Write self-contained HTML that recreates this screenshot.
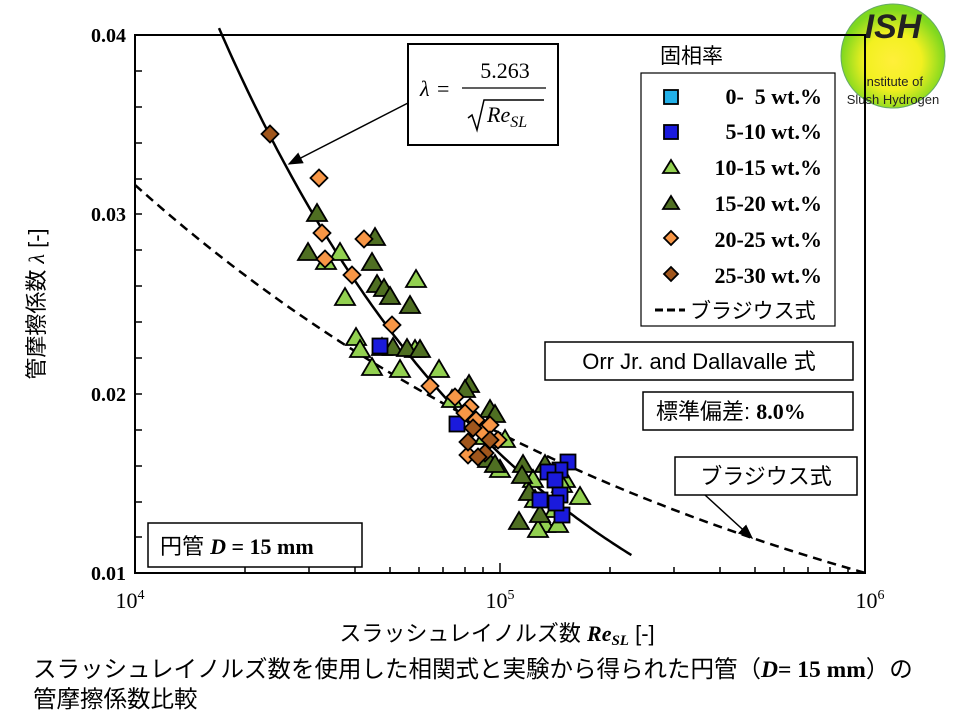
<!DOCTYPE html>
<html><head><meta charset="utf-8"><style>
body{margin:0;background:#fff;width:960px;height:720px;overflow:hidden;font-family:"Liberation Sans","Noto Sans CJK JP",sans-serif}
</style></head><body>
<svg width="960" height="720" viewBox="0 0 960 720" xmlns="http://www.w3.org/2000/svg">
<defs>
<radialGradient id="lg" cx="0.5" cy="0.55" r="0.5">
<stop offset="0" stop-color="#ffef3a"/><stop offset="0.55" stop-color="#f2f020"/><stop offset="1" stop-color="#7fd81f"/>
</radialGradient>
<marker id="ar" markerWidth="10" markerHeight="8" refX="9" refY="4" orient="auto"><path d="M0,0 L10,4 L0,8 Z" fill="#000"/></marker>
</defs>
<!-- logo -->
<circle cx="893" cy="56" r="52" fill="url(#lg)" stroke="#6a6" stroke-width="1"/>
<text x="893" y="38" font-size="34" font-weight="bold" font-style="italic" text-anchor="middle" fill="#222">ISH</text>
<text x="893" y="86" font-size="13" text-anchor="middle" fill="#222">Institute of</text>
<text x="893" y="104" font-size="13" text-anchor="middle" fill="#222">Slush Hydrogen</text>
<!-- axes -->
<rect x="135" y="35" width="730" height="538" fill="none" stroke="#000" stroke-width="2"/>
<g stroke="#000" stroke-width="1.5">
<path d="M135,71h7M135,107h7M135,143h7M135,179h7M135,214h7M135,250h7M135,286h7M135,322h7M135,358h7M135,394h7M135,430h7M135,466h7M135,502h7M135,537h7"/>
<path d="M245,573v-6M309,573v-6M355,573v-6M390,573v-6M419,573v-6M443,573v-6M465,573v-6M483,573v-6M500,573v-10M610,573v-6M674,573v-6M720,573v-6M755,573v-6M784,573v-6M808,573v-6M830,573v-6M848,573v-6"/>
</g>
<g font-family="Liberation Serif,serif" font-weight="bold" font-size="20" text-anchor="end">
<text x="126" y="42">0.04</text><text x="126" y="221">0.03</text><text x="126" y="401">0.02</text><text x="126" y="580">0.01</text>
</g>
<g font-family="Liberation Serif,serif" font-size="22" text-anchor="middle">
<text x="130" y="608">10<tspan font-size="14" dy="-9">4</tspan></text>
<text x="500" y="608">10<tspan font-size="14" dy="-9">5</tspan></text>
<text x="870" y="608">10<tspan font-size="14" dy="-9">6</tspan></text>
</g>
<text x="497" y="641" font-size="22" text-anchor="middle">スラッシュレイノルズ数 <tspan font-family="Liberation Serif,serif" font-weight="bold" font-style="italic">Re<tspan font-size="15" dy="4">SL</tspan></tspan><tspan dy="-4" font-family="Liberation Sans"> [-]</tspan></text>
<text transform="translate(44,304) rotate(-90)" font-size="22" text-anchor="middle">管摩擦係数 <tspan font-family="Liberation Serif,serif" font-style="italic">λ</tspan> [-]</text>
<!-- curves -->
<path id="c1" fill="none" stroke="#000" stroke-width="2.5" d=""/>
<path id="c2" fill="none" stroke="#000" stroke-width="2.5" stroke-dasharray="9,6" d=""/>
<g id="pts" stroke="#000" stroke-width="1.8"></g>
<!-- formula box -->
<line x1="408" y1="103" x2="289" y2="164" stroke="#000" stroke-width="1.5" marker-end="url(#ar)"/>
<rect x="408" y="44" width="150" height="101" fill="#fff" stroke="#000" stroke-width="2"/>
<g font-family="Liberation Serif,serif" font-size="22">
<text x="420" y="96" font-style="italic">λ</text><text x="437" y="96">=</text>
<text x="505" y="78" text-anchor="middle">5.263</text>
<line x1="462" y1="88" x2="546" y2="88" stroke="#000" stroke-width="1.2"/>
<path d="M468,118 l4,-3 l5,15 l7,-30 h60" fill="none" stroke="#000" stroke-width="1.5"/>
<text x="487" y="122" font-style="italic">Re<tspan font-size="16" dy="5">SL</tspan></text>
</g>
<!-- legend -->
<text x="660" y="63" font-size="21">固相率</text>
<rect x="641" y="73" width="194" height="253" fill="#fff" stroke="#000" stroke-width="1.2"/>
<g font-family="Liberation Serif,serif" font-weight="bold" font-size="22" text-anchor="end">
<text x="822" y="104">0-&#160;&#160;5 wt.%</text><text x="822" y="139">5-10 wt.%</text><text x="822" y="175">10-15 wt.%</text>
<text x="822" y="211">15-20 wt.%</text><text x="822" y="247">20-25 wt.%</text><text x="822" y="283">25-30 wt.%</text>
</g>
<g stroke="#000" stroke-width="1.8">
<rect x="664" y="90" width="14" height="14" fill="#22b0e8"/>
<rect x="664" y="125" width="14" height="14" fill="#1a1adc"/>
<path d="M671,160 l8,13 h-16z" fill="#92d050"/>
<path d="M671,196 l8,13 h-16z" fill="#4f6f22"/>
<path d="M671,231 l7,7 l-7,7 l-7,-7z" fill="#f79646"/>
<path d="M671,267 l7,7 l-7,7 l-7,-7z" fill="#a0561c"/>
</g>
<path d="M655,310 h30" stroke="#000" stroke-width="3" stroke-dasharray="8,4"/>
<text x="690" y="318" font-size="21">ブラジウス式</text>
<!-- other boxes -->
<rect x="545" y="342" width="308" height="38" fill="#fff" stroke="#000" stroke-width="1.5"/>
<text x="699" y="369" font-size="22" text-anchor="middle">Orr Jr. and Dallavalle 式</text>
<rect x="643" y="392" width="210" height="38" fill="#fff" stroke="#000" stroke-width="1.5"/>
<text x="656" y="419" font-size="22">標準偏差: <tspan font-family="Liberation Serif,serif" font-weight="bold">8.0%</tspan></text>
<line x1="705" y1="495" x2="752" y2="538" stroke="#000" stroke-width="1.5" marker-end="url(#ar)"/>
<rect x="675" y="457" width="182" height="38" fill="#fff" stroke="#000" stroke-width="1.5"/>
<text x="766" y="484" font-size="22" text-anchor="middle">ブラジウス式</text>
<rect x="148" y="523" width="214" height="44" fill="#fff" stroke="#000" stroke-width="1.5"/>
<text x="160" y="554" font-size="22">円管 <tspan font-family="Liberation Serif,serif" font-weight="bold"><tspan font-style="italic">D</tspan> = 15 mm</tspan></text>
<!-- caption -->
<text x="33" y="677" font-size="23.5">スラッシュレイノルズ数を使用した相関式と実験から得られた円管（<tspan font-family="Liberation Serif,serif" font-weight="bold"><tspan font-style="italic">D</tspan>= 15 mm</tspan>）の</text>
<text x="33" y="707" font-size="23.5">管摩擦係数比較</text>
</svg>
<script>
function X(re){return 135+(Math.log10(re)-4)*365}
function Y(l){return 35+(0.04-l)*17933}
var d1="",d2="";
for(var lg=4.23;lg<=5.36;lg+=0.01){var re=Math.pow(10,lg);d1+=(d1?"L":"M")+X(re).toFixed(1)+","+Y(5.263/Math.sqrt(re)).toFixed(1);}
for(var lg=4;lg<=6.001;lg+=0.02){var re=Math.pow(10,lg);d2+=(d2?"L":"M")+X(re).toFixed(1)+","+Y(0.3164*Math.pow(re,-0.25)).toFixed(1);}
document.getElementById("c1").setAttribute("d",d1);
document.getElementById("c2").setAttribute("d",d2);
var g=document.getElementById("pts"),h="";
function tri(x,y,c){h+='<path d="M'+x+','+(y-10)+' l10,17 h-20z" fill="'+c+'"/>';}
function dia(x,y,c){h+='<path d="M'+x+','+(y-8.5)+' l8.5,8.5 l-8.5,8.5 l-8.5,-8.5z" fill="'+c+'"/>';}
function sq(x,y,c){h+='<rect x="'+(x-7.5)+'" y="'+(y-7.5)+'" width="15" height="15" fill="'+c+'"/>';}
var LG="#92d050",DG="#4f6f22",OR="#f79646",BR="#a0561c",BL="#1a1adc";
[[340,253],[345,298],[356,338],[360,350],[372,368],[382,348],[400,370],[415,350],[439,370],[452,400],[485,437],[500,470],[505,440],[533,480],[535,500],[555,510],[565,480],[580,497],[545,525],[538,530],[558,525],[562,485],[326,262],[416,280]].forEach(function(p){tri(p[0],p[1],LG)});
[[317,214],[308,253],[372,263],[377,285],[384,289],[390,297],[410,306],[393,348],[407,349],[420,350],[469,385],[465,390],[490,410],[495,415],[488,460],[495,465],[523,465],[545,465],[522,476],[519,522],[540,515],[529,493],[375,238]].forEach(function(p){tri(p[0],p[1],DG)});
[[380,346],[457,424],[568,462],[560,470],[548,472],[555,480],[540,500],[560,495],[562,515],[556,503]].forEach(function(p){sq(p[0],p[1],BL)});
[[319,178],[322,233],[325,259],[352,275],[364,239],[392,325],[430,386],[455,397],[470,407],[476,420],[465,413],[482,432],[490,425],[468,455],[498,440]].forEach(function(p){dia(p[0],p[1],OR)});
[[270,134],[473,428],[468,442],[490,440],[485,453],[478,457]].forEach(function(p){dia(p[0],p[1],BR)});
g.innerHTML=h;
</script>
</body></html>
